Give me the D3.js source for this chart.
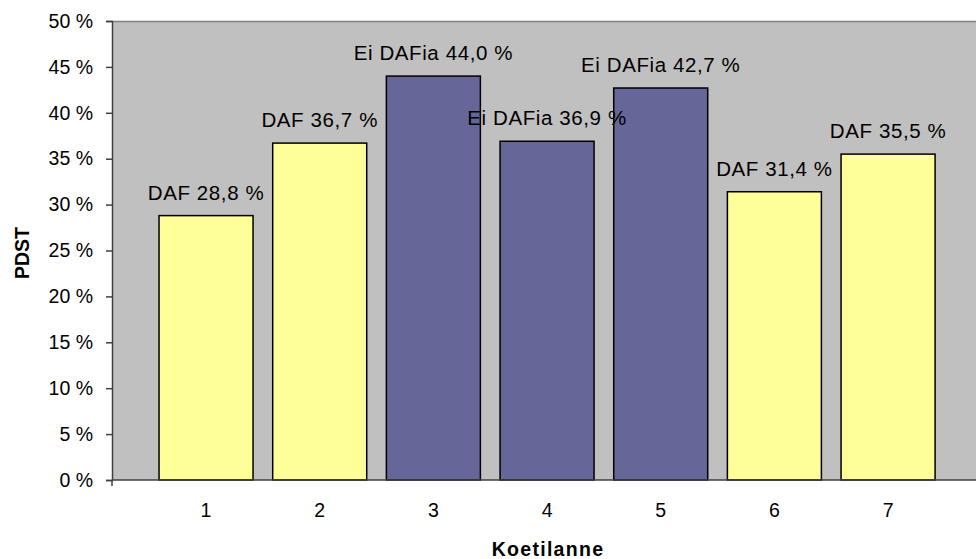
<!DOCTYPE html>
<html><head><meta charset="utf-8">
<script src="https://cdn.jsdelivr.net/npm/d3@7"></script>
<style>body{margin:0;background:#fff}svg{display:block;font-family:Arial,"Liberation Sans",sans-serif}</style>
</head><body><svg id="c" width="976" height="559"></svg>
<script>
const categories = ["1","2","3","4","5","6","7"];
const values = [28.8, 36.7, 44.0, 36.9, 42.7, 31.4, 35.5];
const groups = ["DAF","DAF","Ei DAFia","Ei DAFia","Ei DAFia","DAF","DAF"];
const valueLabels = ["28,8 %","36,7 %","44,0 %","36,9 %","42,7 %","31,4 %","35,5 %"];
const yTicks = [0,5,10,15,20,25,30,35,40,45,50];
const colors = {"DAF":"#FFFF99","Ei DAFia":"#666699"};

const svg = d3.select("#c");
const plot = {left:112, right:985, top:21, bottom:480};
const y = d3.scaleLinear().domain([0,50]).range([plot.bottom, plot.top]);
const x = d3.scaleBand().domain(categories).range([149.2, 944.9]).paddingInner(0.173).paddingOuter(0.0865);

svg.append("rect").attr("x",plot.left).attr("y",plot.top).attr("width",plot.right-plot.left).attr("height",plot.bottom-plot.top).attr("fill","#C0C0C0");
svg.append("line").attr("x1",plot.left).attr("x2",plot.right).attr("y1",plot.top+0.5).attr("y2",plot.top+0.5).attr("stroke","#808080").attr("stroke-width",1.5);

svg.selectAll("rect.bar").data(values).join("rect").attr("class","bar")
  .attr("x",(d,i)=>x(categories[i])).attr("width",x.bandwidth())
  .attr("y",d=>y(d)).attr("height",d=>y(0)-y(d))
  .attr("fill",(d,i)=>colors[groups[i]]).attr("stroke","#000").attr("stroke-width",1.5);

svg.selectAll("text.lbl").data(values).join("text").attr("class","lbl")
  .attr("x",(d,i)=>x(categories[i])+x.bandwidth()/2).attr("y",d=>y(d)-16)
  .attr("text-anchor","middle").attr("font-size",20.5).attr("letter-spacing",0.6).attr("fill","#000")
  .text((d,i)=>groups[i]+" "+valueLabels[i]);

// y axis
const ya = svg.append("g").attr("transform",`translate(${plot.left},0)`)
  .call(d3.axisLeft(y).tickValues(yTicks).tickSize(6).tickPadding(13).tickFormat(d=>d+" %"));
ya.select(".domain").attr("stroke","#404040").attr("stroke-width",1.5);
ya.selectAll(".tick line").attr("stroke","#404040").attr("stroke-width",1.5);
ya.selectAll("text").attr("font-size",19.5).attr("font-family","Arial, Liberation Sans, sans-serif").attr("fill","#000");

// x axis
const xa = svg.append("g").attr("transform",`translate(0,${plot.bottom})`)
  .call(d3.axisBottom(x).tickSize(0).tickPadding(23));
xa.select(".domain").attr("d",`M${plot.left},0H${plot.right}`).attr("stroke","#404040").attr("stroke-width",1.5);
xa.selectAll("text").attr("font-size",19.5).attr("font-family","Arial, Liberation Sans, sans-serif").attr("fill","#000");
svg.append("line").attr("x1",plot.left).attr("x2",plot.left).attr("y1",plot.bottom).attr("y2",plot.bottom+6).attr("stroke","#404040").attr("stroke-width",1.5);

svg.append("text").attr("x",548).attr("y",556).attr("text-anchor","middle").attr("font-weight","bold").attr("font-size",19.5).attr("letter-spacing",1.3).text("Koetilanne");
svg.append("text").attr("transform","translate(29,253) rotate(-90)").attr("text-anchor","middle").attr("font-weight","bold").attr("font-size",19.5).text("PDST");
</script></body></html>
